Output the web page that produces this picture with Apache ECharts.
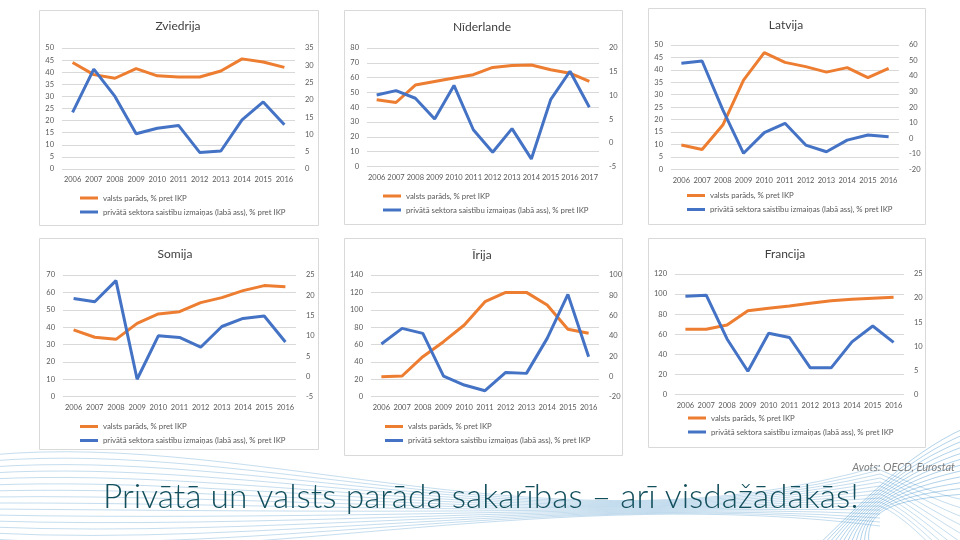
<!DOCTYPE html>
<html><head><meta charset="utf-8">
<script src="https://cdn.jsdelivr.net/npm/echarts@6/dist/echarts.min.js"></script>
<style>html,body{margin:0;padding:0;background:#fff}#c{width:960px;height:540px}</style>
</head><body><div id="c"></div>
<script>
// ---- data ----
const years11 = ['2006','2007','2008','2009','2010','2011','2012','2013','2014','2015','2016'];
const years12 = ['2006','2007','2008','2009','2010','2011','2012','2013','2014','2015','2016','2017'];
const nameDebt = 'valsts parāds, % pret IKP';
const namePriv = 'privātā sektora saistību izmaiņas (labā ass), % pret IKP';

const sweDebt = [44, 39, 37.5, 41.5, 38.5, 38, 38, 40.5, 45.5, 44.2, 42];
const swePriv = [16.4, 28.9, 21, 10.2, 11.8, 12.6, 4.8, 5.2, 14.2, 19.4, 12.8];
const nldDebt = [45, 43.2, 55, 57.4, 59.7, 62, 66.9, 68.2, 68.5, 65.3, 63, 57.4];
const nldPriv = [10.1, 11, 9.4, 5, 12.1, 2.75, -2, 3, -3.4, 9.1, 15.1, 7.5];
const lvaDebt = [9.8, 8, 17.8, 35.9, 46.9, 43, 41.3, 39.1, 40.9, 36.9, 40.6];
const lvaPriv = [48.2, 49.7, 18.2, -9.7, 3.6, 9.6, -4.4, -8.7, -1.2, 2.1, 1];
const finDebt = [38.4, 34.2, 33, 42.2, 47.6, 48.9, 54.1, 57, 61, 63.9, 63.3];
const finPriv = [19.2, 18.4, 23.6, -0.7, 10, 9.6, 7.2, 12.3, 14.3, 14.9, 8.5];
const irlDebt = [23, 23.8, 46, 63.3, 82.5, 109.3, 120, 120, 105.5, 77.5, 72.9];
const irlPriv = [31.9, 47.4, 42.4, 0.3, -8.5, -14.1, 3.9, 3, 37.5, 80.9, 19.4];
const fraDebt = [64.8, 64.8, 69.1, 83.4, 85.8, 88.1, 90.8, 93.4, 94.7, 95.7, 96.7];
const fraPriv = [20.4, 20.6, 11.5, 4.8, 12.7, 11.8, 5.5, 5.5, 10.9, 14.2, 10.8];

// axis ticks [min, max, step]
const sweLeft = [0, 50, 5],   sweRight = [0, 35, 5];
const nldLeft = [0, 80, 10],  nldRight = [-5, 20, 5];
const lvaLeft = [0, 50, 5],   lvaRight = [-20, 60, 10];
const finLeft = [0, 70, 10],  finRight = [-5, 25, 5];
const irlLeft = [0, 140, 20], irlRight = [-20, 100, 20];
const fraLeft = [0, 120, 20], fraRight = [0, 25, 5];

// ---- layout ----
const panels = [
  {name:'Zviedrija', cats:years11, debt:sweDebt, priv:swePriv, l:sweLeft, r:sweRight, box:[39,10,318,225], grid:[62,48,233,121], title:[178,26], legend:[80,194]},
  {name:'Nīderlande', cats:years12, debt:nldDebt, priv:nldPriv, l:nldLeft, r:nldRight, box:[344,10,622,224], grid:[367,48,232,118.5], title:[482,27], legend:[383,192]},
  {name:'Latvija', cats:years11, debt:lvaDebt, priv:lvaPriv, l:lvaLeft, r:lvaRight, box:[648,8,925,224], grid:[671,45,228,124.3], title:[786,25], legend:[687,191.5]},
  {name:'Somija', cats:years11, debt:finDebt, priv:finPriv, l:finLeft, r:finRight, box:[39,238,318,449], grid:[63,275,233,121.7], title:[175,254], legend:[80,422.5]},
  {name:'Īrija', cats:years11, debt:irlDebt, priv:irlPriv, l:irlLeft, r:irlRight, box:[344,238,622,455], grid:[371,275,228,121.7], title:[482,255], legend:[385,422.5]},
  {name:'Francija', cats:years11, debt:fraDebt, priv:fraPriv, l:fraLeft, r:fraRight, box:[648,238,925,447], grid:[675,274,229,120.3], title:[785,254], legend:[688,414]}
];

const FONT = 'Lato, "Noto Sans", sans-serif';
const LBL = {fontSize:7.5, color:'#595959', fontFamily:FONT};
const grids=[], xAxes=[], yAxes=[], series=[], legends=[], graphics=[];

// decorative background waves
for (let i=0;i<16;i++){
  graphics.push({type:'bezierCurve', silent:true, z:-10,
    shape:{x1:-10, y1:455 + i*6, x2:880, y2:466 + i*4,
           cpx1:260, cpy1:430 + i*9, cpx2:560, cpy2:560 - i*5},
    style:{stroke:'#2e86c1', lineWidth:1, opacity:0.28, fill:null}});
}
for (let i=0;i<12;i++){
  graphics.push({type:'bezierCurve', silent:true, z:-10,
    shape:{x1:815 + i*5, y1:548, x2:965, y2:428 + i*6,
           cpx1:860, cpy1:505, cpx2:905, cpy2:455 + i*4},
    style:{stroke:'#1f7fc4', lineWidth:1, opacity:0.35, fill:null}});
}
for (let i=0;i<10;i++){
  graphics.push({type:'bezierCurve', silent:true, z:-10,
    shape:{x1:880, y1:470 + i*4, x2:965, y2:500 + i*9,
           cpx1:905, cpy1:480 + i*4, cpx2:935, cpy2:495 + i*6},
    style:{stroke:'#2e86c1', lineWidth:1, opacity:0.28, fill:null}});
}

panels.forEach((p, i) => {
  grids.push({left:p.grid[0], top:p.grid[1], width:p.grid[2], height:p.grid[3], containLabel:false});
  xAxes.push({type:'category', gridIndex:i, data:p.cats, boundaryGap:true,
    axisLine:{show:false}, axisTick:{show:false},
    axisLabel:Object.assign({interval:0, margin:7}, LBL)});
  yAxes.push({type:'value', gridIndex:i, position:'left', min:p.l[0], max:p.l[1], interval:p.l[2],
    axisLine:{show:false}, axisTick:{show:false},
    axisLabel:Object.assign({margin:8}, LBL),
    splitLine:{show:true, lineStyle:{color:'#d9d9d9', width:1}}});
  yAxes.push({type:'value', gridIndex:i, position:'right', min:p.r[0], max:p.r[1], interval:p.r[2],
    axisLine:{show:false}, axisTick:{show:false},
    axisLabel:Object.assign({margin:10}, LBL),
    splitLine:{show:false}});
  series.push({type:'line', name:nameDebt, xAxisIndex:i, yAxisIndex:2*i, data:p.debt,
    symbol:'none', lineStyle:{color:'#ED7D31', width:3}, itemStyle:{color:'#ED7D31'}, z:2});
  series.push({type:'line', name:namePriv, xAxisIndex:i, yAxisIndex:2*i+1, data:p.priv,
    symbol:'none', lineStyle:{color:'#4472C4', width:3}, itemStyle:{color:'#4472C4'}, z:3});
  legends.push({left:p.legend[0], top:p.legend[1], orient:'vertical', padding:0,
    itemWidth:18, itemHeight:3, itemGap:6, icon:'rect', selectedMode:false,
    data:[nameDebt, namePriv], textStyle:{fontSize:7.8, color:'#595959', fontFamily:FONT}});
  graphics.push({type:'rect', silent:true, z:-5,
    shape:{x:p.box[0]+0.5, y:p.box[1]+0.5, width:p.box[2]-p.box[0], height:p.box[3]-p.box[1]},
    style:{fill:'#fff', stroke:'#d9d9d9', lineWidth:1}});
  graphics.push({type:'text', silent:true, x:p.title[0], y:p.title[1],
    style:{text:p.name, fill:'#404040', font:'12px ' + FONT, textAlign:'center', textVerticalAlign:'middle'}});
});

graphics.push({type:'text', silent:true, x:955, y:467,
  style:{text:'Avots: OECD, Eurostat', fill:'#7f7f7f', font:'italic 11px ' + FONT, textAlign:'right', textVerticalAlign:'middle'}});
graphics.push({type:'text', silent:true, x:103, y:497,
  style:{text:'Privātā un valsts parāda sakarības – arī visdažādākās!', fill:'#134f5c', font:'300 33.5px ' + FONT, textAlign:'left', textVerticalAlign:'middle'}});

const chart = echarts.init(document.getElementById('c'), null, {renderer:'canvas'});
chart.setOption({
  animation:false,
  backgroundColor:'#ffffff',
  grid:grids, xAxis:xAxes, yAxis:yAxes, series:series, legend:legends, graphic:graphics
});
</script></body></html>
